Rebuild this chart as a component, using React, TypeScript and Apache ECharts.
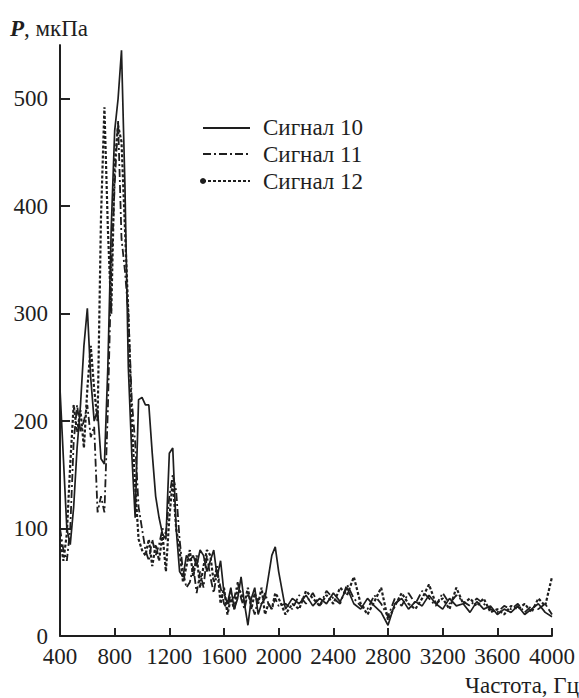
import React, { useEffect, useRef } from "react";
import * as echarts from "echarts";

// Frequency grid (Hz)
const freq: number[] = [
  400, 425, 450, 475, 500, 525, 550, 575, 600, 625,
  650, 675, 700, 725, 750, 775, 800, 825, 850, 875,
  900, 925, 950, 975, 1000, 1025, 1050, 1075, 1100, 1125,
  1150, 1175, 1200, 1225, 1250, 1275, 1300, 1325, 1350, 1375,
  1400, 1425, 1450, 1475, 1500, 1525, 1550, 1575, 1600, 1625,
  1650, 1675, 1700, 1725, 1750, 1775, 1800, 1825, 1850, 1875,
  1900, 1925, 1950, 1975, 2000,
  2050, 2100, 2150, 2200, 2250, 2300, 2350, 2400, 2450, 2500,
  2550, 2600, 2650, 2700, 2750, 2800, 2850, 2900, 2950, 3000,
  3050, 3100, 3150, 3200, 3250, 3300, 3350, 3400, 3450, 3500,
  3550, 3600, 3650, 3700, 3750, 3800, 3850, 3900, 3950, 4000,
];

// Сигнал 10 (solid)
const signal10: number[] = [
  230, 165, 100, 85, 120, 175, 215, 270, 305, 240,
  200, 210, 165, 160, 250, 380, 470, 500, 545, 420,
  250, 170, 110, 220, 222, 215, 215, 170, 130, 110,
  95, 90, 170, 175, 100, 60, 55, 75, 70, 75,
  65, 80, 75, 60, 70, 80, 55, 70, 40, 30,
  45, 25, 35, 55, 30, 10, 35, 45, 20, 30,
  35, 55, 75, 83, 60,
  25, 35, 30, 38, 28, 35, 30, 40, 32, 45,
  30, 25, 35, 28, 22, 10, 30, 35, 25, 32,
  28, 38, 30, 25, 35, 28, 30, 22, 32, 25,
  28, 20, 25, 22, 28, 20, 25, 30, 22, 18,
];

// Сигнал 11 (dash-dot)
const signal11: number[] = [
  100, 80, 70, 100, 180, 215, 190, 200, 215, 185,
  195, 115, 130, 115, 210, 340, 420, 480, 370, 340,
  300, 220, 180, 120, 100, 80, 70, 90, 75, 85,
  100, 95, 130, 150, 135, 90, 60, 45, 50, 65,
  40, 60, 45, 75, 55, 40, 60, 45, 30, 25,
  40, 35, 50, 35, 25, 40, 30, 20, 35, 30,
  40, 30, 25, 35, 28,
  30, 25, 38, 30, 40, 28, 42, 35, 30, 48,
  35, 28, 25, 38, 30, 18, 35, 28, 40, 30,
  42, 35, 28, 40, 30, 38, 32, 28, 35, 30,
  25, 22, 28, 25, 30, 22, 28, 25, 30, 20,
];

// Сигнал 12 (dashed)
const signal12: number[] = [
  90, 70, 95, 160, 215, 190, 210, 175, 230, 270,
  230, 200, 390, 492, 380, 300, 440, 475, 460, 380,
  300, 200, 140, 90, 80, 75, 90, 65, 85, 70,
  95, 60, 110, 145, 100, 80, 50, 65, 80, 55,
  75, 45, 65, 80, 75, 50, 65, 30, 45, 20,
  35, 25, 45, 40, 30, 45, 25, 40, 30, 45,
  20, 30, 25, 40, 35,
  20, 30, 25, 42, 35, 28, 38, 30, 45, 38,
  55, 30, 20, 32, 45, 15, 28, 40, 30, 25,
  35, 48, 30, 35, 25, 45, 30, 35, 28, 35,
  22, 25, 20, 28, 25, 30, 22, 35, 28, 55,
];

const seriesNames = ["Сигнал 10", "Сигнал 11", "Сигнал 12"];
const yTicks = [0, 100, 200, 300, 400, 500];
const xTickMarks = [800, 1200, 1600, 2000, 2400, 2800, 3200, 3600, 4000];
const yTickMarks = [100, 200, 300, 400, 500];
const X_MIN = 400;
const X_MAX = 4000;
const Y_MAX = 550;

const FONT = "Liberation Serif";
const INK = "#1e1e1e";

export default function App() {
  const ref = useRef<HTMLDivElement>(null);
  useEffect(() => {
    if (!ref.current) return;
    const chart = echarts.init(ref.current, undefined, { renderer: "svg" });
    const pairs = (vals: number[]) => freq.map((f, i) => [f, vals[i]]);
    const styles = [
      { type: "solid" as any, width: 1.7 },
      { type: [8, 3, 2, 3] as any, width: 1.8 },
      { type: [3, 2] as any, width: 2.2 },
    ];
    const data = [signal10, signal11, signal12];
    // axis frame and inside ticks drawn as mark lines in data coordinates
    const tickLenX = 7.5; // in value units (~8px)
    const tickLenY = 73; // in Hz (~10px)
    const frame: any[] = [
      [{ coord: [X_MIN, 0] }, { coord: [X_MIN, Y_MAX] }],
      [{ coord: [X_MIN, 0] }, { coord: [X_MAX, 0] }],
      ...xTickMarks.map((f) => [{ coord: [f, 0] }, { coord: [f, tickLenX] }]),
      ...yTickMarks.map((v) => [{ coord: [X_MIN, v] }, { coord: [X_MIN + tickLenY, v] }]),
    ];
    chart.setOption({
      animation: false,
      grid: { left: 60, right: 27, top: 45, bottom: 62 },
      xAxis: {
        type: "value",
        min: X_MIN,
        max: X_MAX,
        interval: 400,
        axisLine: { show: true, onZero: false, lineStyle: { color: INK, width: 1.8 } },
        axisTick: { show: true, inside: true, length: 8, lineStyle: { color: INK, width: 1.5 } },
        axisLabel: {
          interval: 0,
          hideOverlap: false,
          margin: 9,
          color: INK,
          fontFamily: FONT,
          fontSize: 23,
          formatter: (v: number) => String(v),
        },
        splitLine: { show: false },
      },
      yAxis: {
        type: "value",
        min: 0,
        max: Y_MAX,
        interval: 100,
        axisLine: { show: true, onZero: false, lineStyle: { color: INK, width: 1.8 } },
        axisTick: { show: true, inside: true, length: 10, lineStyle: { color: INK, width: 1.5 } },
        axisLabel: {
          margin: 12,
          color: INK,
          fontFamily: FONT,
          fontSize: 23,
          showMaxLabel: false,
          formatter: (v: number) => (yTicks.indexOf(v) >= 0 ? String(v) : ""),
        },
        splitLine: { show: false },
      },
      series: data.map((vals, k) => ({
        name: seriesNames[k],
        type: "line",
        data: pairs(vals),
        showSymbol: false,
        symbol: "none",
        lineStyle: { color: INK, width: styles[k].width, type: styles[k].type },
        ...(k === 0
          ? {
              markLine: {
                silent: true,
                symbol: ["none", "none"],
                label: { show: false },
                emphasis: { disabled: true },
                lineStyle: { color: INK, width: 1.8, type: "solid" },
                data: frame,
              },
            }
          : {}),
      })),
      graphic: [
        { type: "text", x: 10, y: 17, style: { text: "P", fontFamily: FONT, fontSize: 23, fontStyle: "italic", fontWeight: "bold", fill: INK } },
        { type: "text", x: 24, y: 17, style: { text: ", мкПа", fontFamily: FONT, fontSize: 23, fill: INK } },
        { type: "text", x: 465, y: 674, style: { text: "Частота, Гц", fontFamily: FONT, fontSize: 23, fill: INK } },
        // legend
        { type: "line", shape: { x1: 203, y1: 128, x2: 250, y2: 128 }, style: { stroke: INK, lineWidth: 1.8 } },
        { type: "line", shape: { x1: 203, y1: 154, x2: 250, y2: 154 }, style: { stroke: INK, lineWidth: 2, lineDash: [8, 3, 2, 3] } },
        { type: "line", shape: { x1: 203, y1: 181, x2: 250, y2: 181 }, style: { stroke: INK, lineWidth: 2, lineDash: [3, 2] } },
        { type: "circle", shape: { cx: 203, cy: 181, r: 3 }, style: { fill: INK } },
        { type: "text", x: 263, y: 116, style: { text: seriesNames[0], fontFamily: FONT, fontSize: 23, fill: INK } },
        { type: "text", x: 263, y: 143, style: { text: seriesNames[1], fontFamily: FONT, fontSize: 23, fill: INK } },
        { type: "text", x: 263, y: 170, style: { text: seriesNames[2], fontFamily: FONT, fontSize: 23, fill: INK } },
      ],
    });
    return () => chart.dispose();
  }, []);
  return <div ref={ref} style={{ width: 579, height: 698, position: "absolute", left: 0, top: 0 }} />;
}
